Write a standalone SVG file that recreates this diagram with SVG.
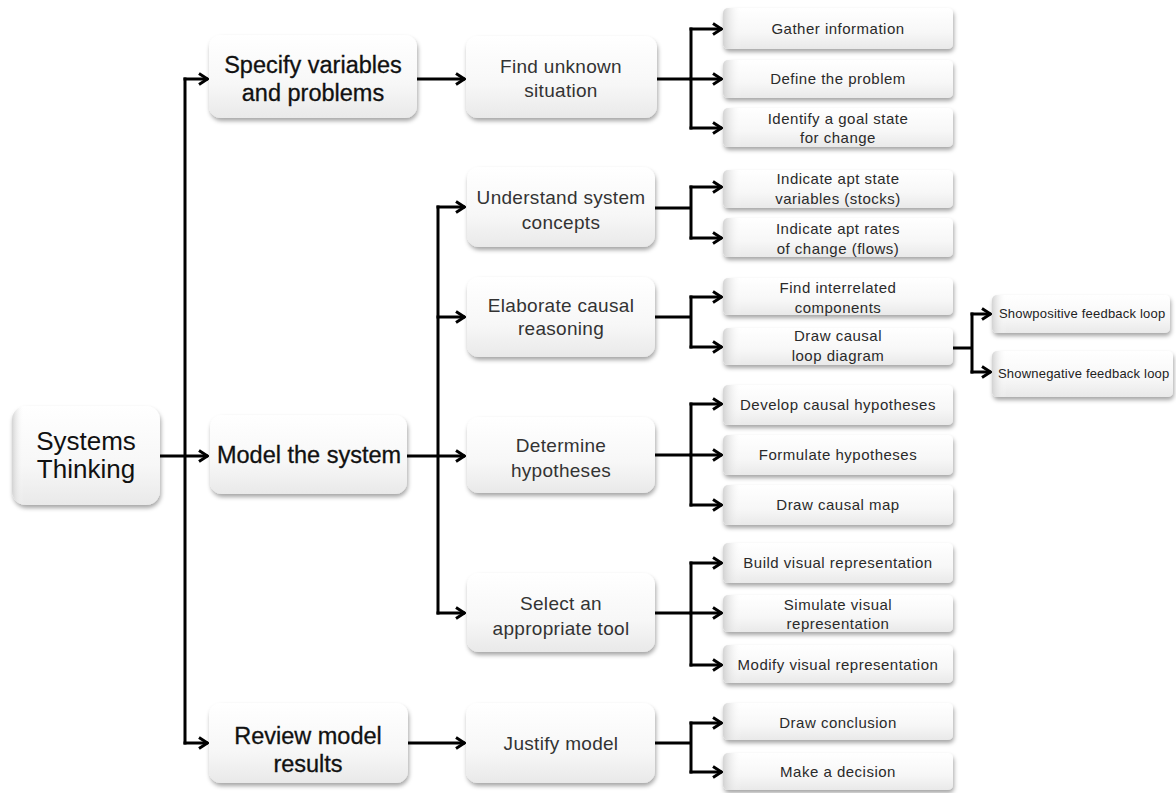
<svg xmlns="http://www.w3.org/2000/svg" width="1176" height="793" viewBox="0 0 1176 793">
  <defs>
    <linearGradient id="boxFill" x1="0" y1="0" x2="0" y2="1">
      <stop offset="0" stop-color="#ffffff"/>
      <stop offset="0.6" stop-color="#f7f7f7"/>
      <stop offset="1" stop-color="#e9e9e9"/>
    </linearGradient>
    <linearGradient id="edgeShade" x1="0" y1="0" x2="1" y2="0">
      <stop offset="0" stop-color="#cfcfcf" stop-opacity="0.9"/>
      <stop offset="0.08" stop-color="#ffffff" stop-opacity="0"/>
    </linearGradient>
    <filter id="shadow" x="-10%" y="-20%" width="120%" height="150%">
      <feDropShadow dx="1" dy="3" stdDeviation="2" flood-color="#000" flood-opacity="0.35"/>
    </filter>
    <marker id="ah" viewBox="0 0 12 14" refX="11" refY="7" markerWidth="12" markerHeight="14" markerUnits="userSpaceOnUse" orient="auto">
      <path d="M2,1.5 L10.5,7 L2,12.5" fill="none" stroke="#000" stroke-width="3" stroke-linejoin="miter"/>
    </marker>
  </defs>
  <style>
    .box { fill: url(#boxFill); filter: url(#shadow); }
    .shade { fill: url(#edgeShade); }
    .t0 { font-family: "Liberation Sans", Arial, sans-serif; font-size: 26px; fill: #111; text-anchor: middle; }
    .t1 { font-family: "Liberation Sans", Arial, sans-serif; font-size: 23.5px; fill: #111; stroke: #111; stroke-width: 0.3; text-anchor: middle; }
    .t2 { font-family: "Liberation Sans", Arial, sans-serif; font-size: 19px; fill: #333; letter-spacing: 0.3px; text-anchor: middle; }
    .t3 { font-family: "Liberation Sans", Arial, sans-serif; font-size: 15px; fill: #2a2a2a; letter-spacing: 0.5px; text-anchor: middle; }
    .t4 { font-family: "Liberation Sans", Arial, sans-serif; font-size: 13px; fill: #222; letter-spacing: 0.2px; }
    .ln { fill: none; stroke: #000; stroke-width: 3; }
    .ar { fill: none; stroke: #000; stroke-width: 3; marker-end: url(#ah); }
  </style>
  <rect width="1176" height="793" fill="#ffffff"/>

  <!-- connectors -->
  <g id="connectors">
    <!-- root to first level -->
    <line class="ar" x1="160" y1="456" x2="208" y2="456"/>
    <line class="ln" x1="185" y1="77.5" x2="185" y2="744.5"/>
    <line class="ar" x1="183.5" y1="79" x2="208" y2="79"/>
    <line class="ar" x1="183.5" y1="743" x2="208" y2="743"/>
    <!-- first level to second level -->
    <line class="ar" x1="417" y1="79" x2="465" y2="79"/>
    <line class="ar" x1="408" y1="743" x2="465" y2="743"/>
    <line class="ar" x1="407" y1="456" x2="465" y2="456"/>
    <line class="ln" x1="438" y1="205.5" x2="438" y2="614.5"/>
    <line class="ar" x1="436.5" y1="207" x2="465" y2="207"/>
    <line class="ar" x1="436.5" y1="317" x2="465" y2="317"/>
    <line class="ar" x1="436.5" y1="613" x2="465" y2="613"/>
    <!-- Find unknown situation -->
    <line class="ln" x1="657" y1="79" x2="691" y2="79"/>
    <line class="ln" x1="691" y1="27.5" x2="691" y2="129.5"/>
    <line class="ar" x1="689.5" y1="29" x2="722" y2="29"/>
    <line class="ar" x1="689.5" y1="79" x2="722" y2="79"/>
    <line class="ar" x1="689.5" y1="128" x2="722" y2="128"/>
    <!-- Understand system concepts -->
    <line class="ln" x1="655" y1="208" x2="691" y2="208"/>
    <line class="ln" x1="691" y1="185.5" x2="691" y2="239.5"/>
    <line class="ar" x1="689.5" y1="187" x2="722" y2="187"/>
    <line class="ar" x1="689.5" y1="238" x2="722" y2="238"/>
    <!-- Elaborate causal reasoning -->
    <line class="ln" x1="655" y1="317" x2="691" y2="317"/>
    <line class="ln" x1="691" y1="295.5" x2="691" y2="348.5"/>
    <line class="ar" x1="689.5" y1="297" x2="722" y2="297"/>
    <line class="ar" x1="689.5" y1="347" x2="722" y2="347"/>
    <!-- Determine hypotheses -->
    <line class="ln" x1="655" y1="455" x2="691" y2="455"/>
    <line class="ln" x1="691" y1="402.5" x2="691" y2="506.5"/>
    <line class="ar" x1="689.5" y1="404" x2="722" y2="404"/>
    <line class="ar" x1="689.5" y1="455" x2="722" y2="455"/>
    <line class="ar" x1="689.5" y1="505" x2="722" y2="505"/>
    <!-- Select an appropriate tool -->
    <line class="ln" x1="655" y1="613" x2="691" y2="613"/>
    <line class="ln" x1="691" y1="561.5" x2="691" y2="666.5"/>
    <line class="ar" x1="689.5" y1="563" x2="722" y2="563"/>
    <line class="ar" x1="689.5" y1="613" x2="722" y2="613"/>
    <line class="ar" x1="689.5" y1="665" x2="722" y2="665"/>
    <!-- Justify model -->
    <line class="ln" x1="655" y1="743" x2="691" y2="743"/>
    <line class="ln" x1="691" y1="721.5" x2="691" y2="773.5"/>
    <line class="ar" x1="689.5" y1="723" x2="722" y2="723"/>
    <line class="ar" x1="689.5" y1="772" x2="722" y2="772"/>
    <!-- Draw causal loop diagram -->
    <line class="ln" x1="953" y1="348" x2="972" y2="348"/>
    <line class="ln" x1="972" y1="312.5" x2="972" y2="373.5"/>
    <line class="ar" x1="970.5" y1="314" x2="991" y2="314"/>
    <line class="ar" x1="970.5" y1="372" x2="991" y2="372"/>
  </g>

  <!-- root -->
  <g id="n-systems-thinking">
    <rect class="box" x="12" y="406" width="148" height="99" rx="14"/>
    <rect class="shade" x="12" y="406" width="148" height="99" rx="14"/>
    <text class="t0" x="86" y="450">Systems</text>
    <text class="t0" x="86" y="478">Thinking</text>
  </g>

  <!-- first level -->
  <g id="n-specify">
    <rect class="box" x="209" y="35" width="208" height="83" rx="12"/>
    <text class="t1" x="313" y="73">Specify variables</text>
    <text class="t1" x="313" y="101">and problems</text>
  </g>
  <g id="n-model">
    <rect class="box" x="210" y="415" width="197" height="79" rx="12"/>
    <text class="t1" x="309" y="463">Model the system</text>
  </g>
  <g id="n-review">
    <rect class="box" x="209" y="703" width="199" height="80" rx="12"/>
    <text class="t1" x="308" y="744">Review model</text>
    <text class="t1" x="308" y="772">results</text>
  </g>

  <!-- second level -->
  <g id="n-find-unknown">
    <rect class="box" x="466" y="36" width="191" height="82" rx="12"/>
    <text class="t2" x="561" y="73">Find unknown</text>
    <text class="t2" x="561" y="97">situation</text>
  </g>
  <g id="n-understand">
    <rect class="box" x="467" y="167" width="188" height="80" rx="12"/>
    <text class="t2" x="561" y="204">Understand system</text>
    <text class="t2" x="561" y="229">concepts</text>
  </g>
  <g id="n-elaborate">
    <rect class="box" x="467" y="277" width="188" height="80" rx="12"/>
    <text class="t2" x="561" y="312">Elaborate causal</text>
    <text class="t2" x="561" y="335">reasoning</text>
  </g>
  <g id="n-determine">
    <rect class="box" x="467" y="417" width="188" height="76" rx="12"/>
    <text class="t2" x="561" y="452">Determine</text>
    <text class="t2" x="561" y="477">hypotheses</text>
  </g>
  <g id="n-select">
    <rect class="box" x="467" y="573" width="188" height="79" rx="12"/>
    <text class="t2" x="561" y="610">Select an</text>
    <text class="t2" x="561" y="635">appropriate tool</text>
  </g>
  <g id="n-justify">
    <rect class="box" x="466" y="703" width="189" height="80" rx="12"/>
    <text class="t2" x="561" y="750">Justify model</text>
  </g>

  <!-- third level -->
  <g id="n-gather">
    <rect class="box" x="723" y="8" width="230" height="41" rx="5"/>
    <rect class="shade" x="723" y="8" width="230" height="41" rx="5"/>
    <text class="t3" x="838" y="34">Gather information</text>
  </g>
  <g id="n-define">
    <rect class="box" x="723" y="60" width="230" height="38" rx="5"/>
    <rect class="shade" x="723" y="60" width="230" height="38" rx="5"/>
    <text class="t3" x="838" y="84">Define the problem</text>
  </g>
  <g id="n-goal">
    <rect class="box" x="723" y="108" width="230" height="39" rx="5"/>
    <rect class="shade" x="723" y="108" width="230" height="39" rx="5"/>
    <text class="t3" x="838" y="124">Identify a goal state</text>
    <text class="t3" x="838" y="143">for change</text>
  </g>
  <g id="n-stocks">
    <rect class="box" x="723" y="170" width="230" height="38" rx="5"/>
    <rect class="shade" x="723" y="170" width="230" height="38" rx="5"/>
    <text class="t3" x="838" y="184">Indicate apt state</text>
    <text class="t3" x="838" y="204">variables (stocks)</text>
  </g>
  <g id="n-flows">
    <rect class="box" x="723" y="218" width="230" height="39" rx="5"/>
    <rect class="shade" x="723" y="218" width="230" height="39" rx="5"/>
    <text class="t3" x="838" y="234">Indicate apt rates</text>
    <text class="t3" x="838" y="254">of change (flows)</text>
  </g>
  <g id="n-interrelated">
    <rect class="box" x="723" y="278" width="230" height="37" rx="5"/>
    <rect class="shade" x="723" y="278" width="230" height="37" rx="5"/>
    <text class="t3" x="838" y="293">Find interrelated</text>
    <text class="t3" x="838" y="313">components</text>
  </g>
  <g id="n-causal-loop">
    <rect class="box" x="723" y="328" width="230" height="37" rx="5"/>
    <rect class="shade" x="723" y="328" width="230" height="37" rx="5"/>
    <text class="t3" x="838" y="341">Draw causal</text>
    <text class="t3" x="838" y="361">loop diagram</text>
  </g>
  <g id="n-develop">
    <rect class="box" x="723" y="385" width="230" height="40" rx="5"/>
    <rect class="shade" x="723" y="385" width="230" height="40" rx="5"/>
    <text class="t3" x="838" y="410">Develop causal hypotheses</text>
  </g>
  <g id="n-formulate">
    <rect class="box" x="723" y="435" width="230" height="40" rx="5"/>
    <rect class="shade" x="723" y="435" width="230" height="40" rx="5"/>
    <text class="t3" x="838" y="460">Formulate hypotheses</text>
  </g>
  <g id="n-causal-map">
    <rect class="box" x="723" y="485" width="230" height="40" rx="5"/>
    <rect class="shade" x="723" y="485" width="230" height="40" rx="5"/>
    <text class="t3" x="838" y="510">Draw causal map</text>
  </g>
  <g id="n-build">
    <rect class="box" x="723" y="543" width="230" height="40" rx="5"/>
    <rect class="shade" x="723" y="543" width="230" height="40" rx="5"/>
    <text class="t3" x="838" y="568">Build visual representation</text>
  </g>
  <g id="n-simulate">
    <rect class="box" x="723" y="595" width="230" height="37" rx="5"/>
    <rect class="shade" x="723" y="595" width="230" height="37" rx="5"/>
    <text class="t3" x="838" y="610">Simulate visual</text>
    <text class="t3" x="838" y="629">representation</text>
  </g>
  <g id="n-modify">
    <rect class="box" x="723" y="645" width="230" height="38" rx="5"/>
    <rect class="shade" x="723" y="645" width="230" height="38" rx="5"/>
    <text class="t3" x="838" y="670">Modify visual representation</text>
  </g>
  <g id="n-conclusion">
    <rect class="box" x="723" y="703" width="230" height="37" rx="5"/>
    <rect class="shade" x="723" y="703" width="230" height="37" rx="5"/>
    <text class="t3" x="838" y="728">Draw conclusion</text>
  </g>
  <g id="n-decision">
    <rect class="box" x="723" y="753" width="230" height="37" rx="5"/>
    <rect class="shade" x="723" y="753" width="230" height="37" rx="5"/>
    <text class="t3" x="838" y="777">Make a decision</text>
  </g>

  <!-- fourth level -->
  <g id="n-positive">
    <rect class="box" x="992" y="295" width="178" height="38" rx="5"/>
    <rect class="shade" x="992" y="295" width="178" height="38" rx="5"/>
    <text class="t4" x="999" y="318">Showpositive feedback loop</text>
  </g>
  <g id="n-negative">
    <rect class="box" x="992" y="351" width="181" height="46" rx="5"/>
    <rect class="shade" x="992" y="351" width="181" height="46" rx="5"/>
    <text class="t4" x="998" y="378">Shownegative feedback loop</text>
  </g>
</svg>
